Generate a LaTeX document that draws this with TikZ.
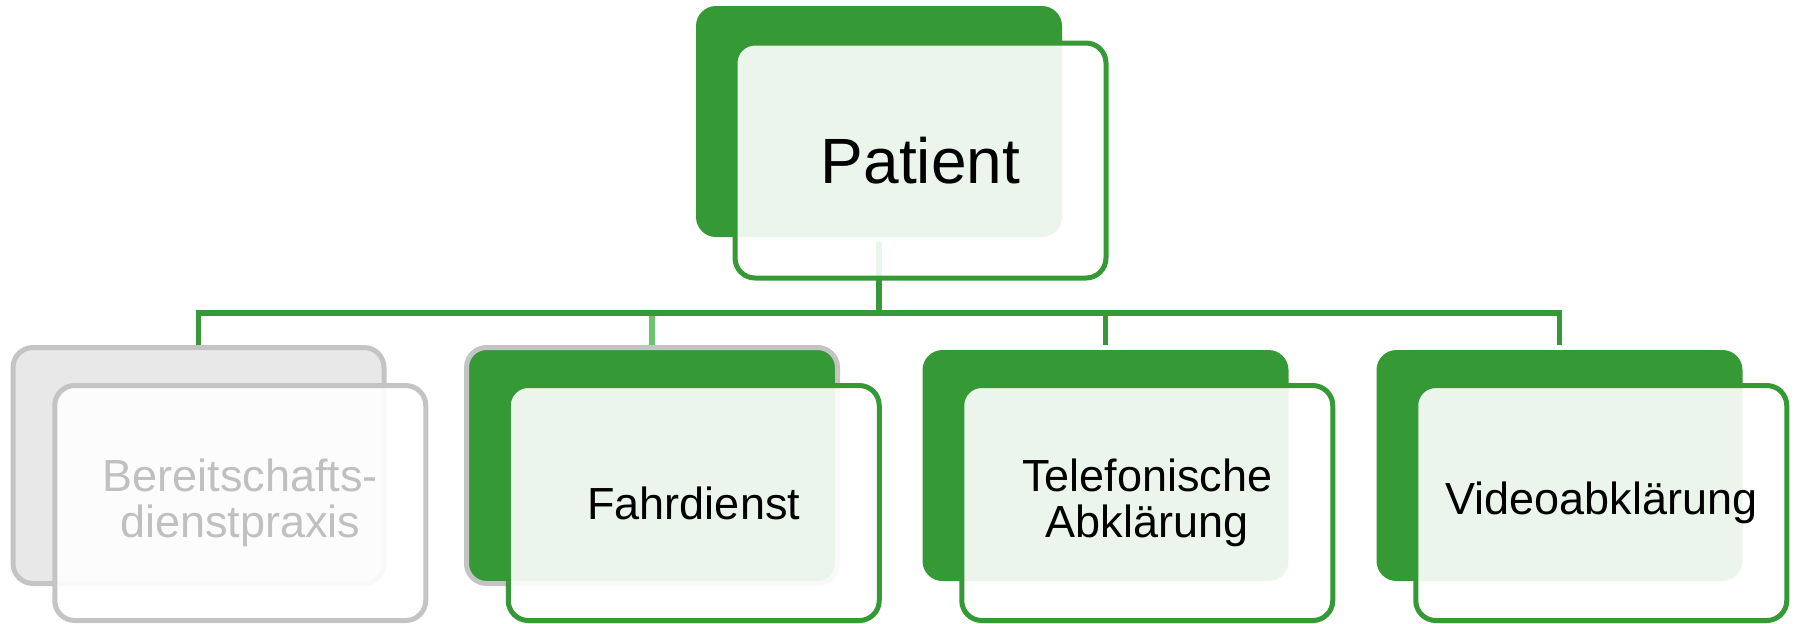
\documentclass[tikz,border=0pt]{standalone}
\usepackage{fontspec}
\setmainfont{Liberation Sans}
\usepackage{xcolor}
\usepackage{tikz}
\definecolor{leafgreen}{HTML}{359A35}
\definecolor{palegreen}{HTML}{6CC46C}
\definecolor{boxgray}{HTML}{C4C4C4}
\definecolor{fillgray}{HTML}{E8E8E8}
\definecolor{textgray}{HTML}{C0C0C0}
\tikzset{back node/.style={rectangle,rounded corners=10pt,fill=leafgreen,minimum width=183pt,minimum height=115.5pt,inner sep=0pt,outer sep=2.5pt},
            framed back/.style={back node,draw=boxgray,line width=2.5pt,minimum width=185.5pt,minimum height=118pt,outer sep=1.25pt},
            front node/.style={rectangle,rounded corners=10pt,draw=leafgreen,line width=2.5pt,fill=white,fill opacity=0.9,text opacity=1,minimum width=185.5pt,minimum height=117.5pt,inner sep=0pt,align=center,font=\fontsize{22.5}{23}\selectfont},
            link/.style={leafgreen,line width=2.75pt},
            }

\begin{document}
\begin{tikzpicture}[x=0.5pt,y=-0.5pt]
				\useasboundingbox (0,0) rectangle (1795,623);
				\node[back node] (pback) at (879,121.5) {};
				\node[framed back,fill=fillgray] (bback) at (198.5,465.5) {};
				\node[framed back] (fback) at (652,465.5) {};
				\node[back node] (tback) at (1105.5,465.5) {};
				\node[back node] (vback) at (1559.5,465.5) {};
				
				\coordinate (bar) at (879,313);
				\draw[link] (pback.south) -- (bar);
				\draw[link,palegreen] (fback.north) -- (fback.north |- bar);
				\draw[link] (tback.north) -- (tback.north |- bar);
				\draw[link] (bback.north) -- (bback.north |- bar) -- (vback.north |- bar) -- (vback.north);
				
				\node[front node,font=\fontsize{32}{34}\selectfont] (patient) at (920.5,160.5) {Patient};
				\node[front node,draw=boxgray,text=textgray] (praxis) at (240.25,503) {Bereitschafts-\\dienstpraxis};
				\node[front node] (fahrdienst) at (693.75,503) {Fahrdienst};
				\node[front node] (telefon) at (1147.25,503) {Telefonische\\Abklärung};
				\node[front node] (video) at (1601.25,503) {Videoabklärung};
\end{tikzpicture}
\end{document}
